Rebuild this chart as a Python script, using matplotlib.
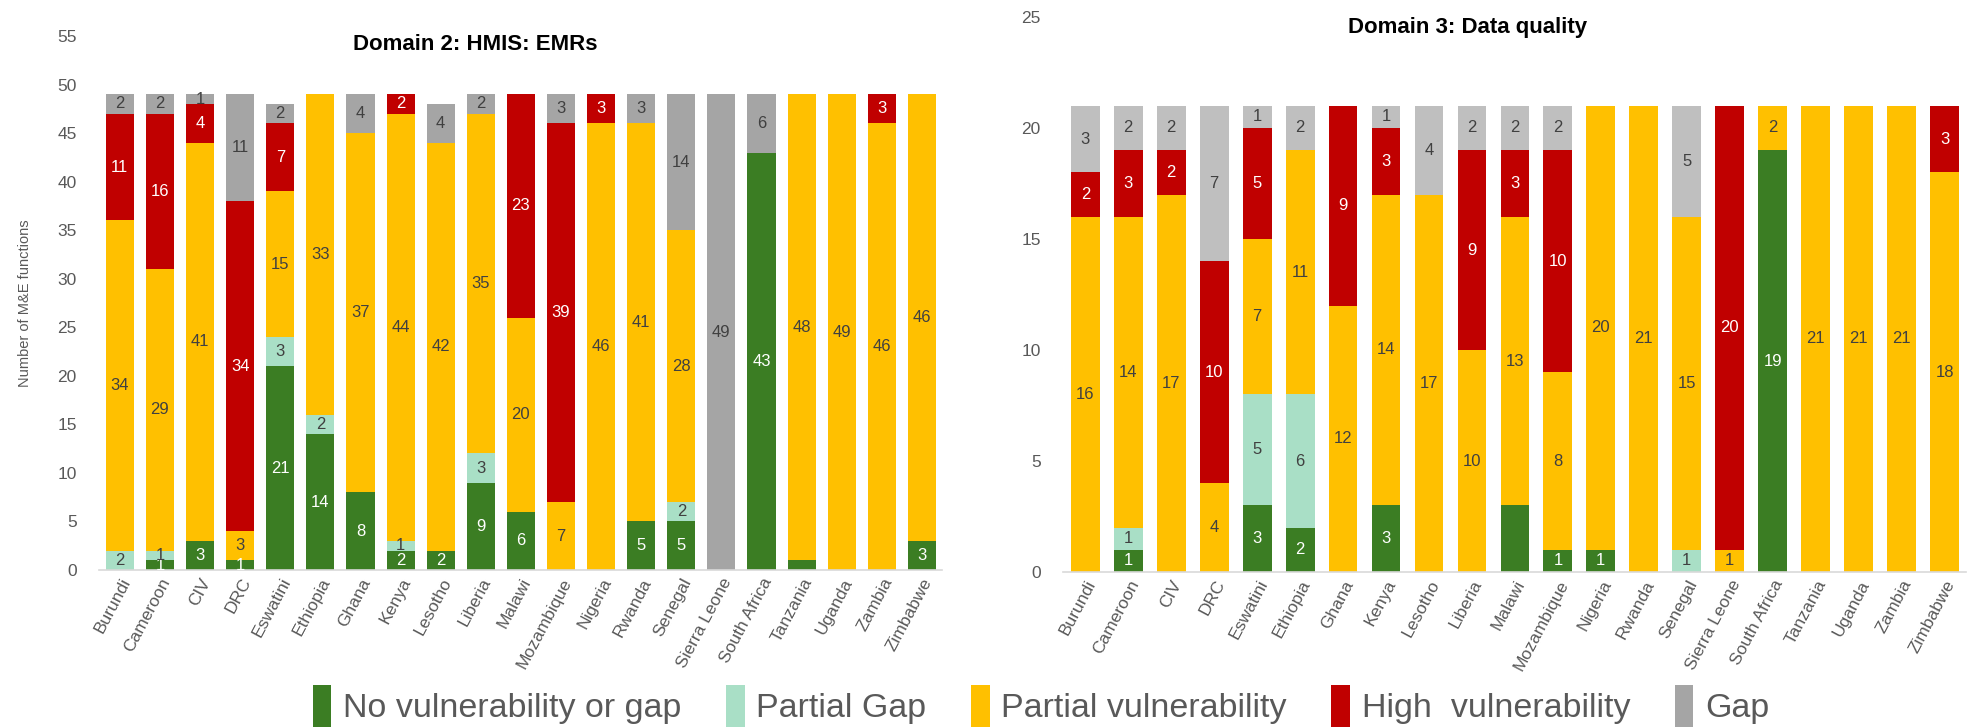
import numpy as np
import matplotlib
matplotlib.use("Agg")
import matplotlib.pyplot as plt
from matplotlib.patches import Patch

countries = ["Burundi", "Cameroon", "CIV", "DRC", "Eswatini", "Ethiopia", "Ghana",
             "Kenya", "Lesotho", "Liberia", "Malawi", "Mozambique", "Nigeria", "Rwanda",
             "Senegal", "Sierra Leone", "South Africa", "Tanzania", "Uganda", "Zambia",
             "Zimbabwe"]
series_names = ["No vulnerability or gap", "Partial Gap", "Partial vulnerability",
                "High  vulnerability", "Gap"]

# Domain 2: HMIS: EMRs
d2_none = [0, 1, 3, 1, 21, 14, 8, 2, 2, 9, 6, 0, 0, 5, 5, 0, 43, 1, 0, 0, 3]
d2_pgap = [2, 1, 0, 0, 3, 2, 0, 1, 0, 3, 0, 0, 0, 0, 2, 0, 0, 0, 0, 0, 0]
d2_pvul = [34, 29, 41, 3, 15, 33, 37, 44, 42, 35, 20, 7, 46, 41, 28, 0, 0, 48, 49, 46, 46]
d2_high = [11, 16, 4, 34, 7, 0, 0, 2, 0, 0, 23, 39, 3, 0, 0, 0, 0, 0, 0, 3, 0]
d2_gap = [2, 2, 1, 11, 2, 0, 4, 0, 4, 2, 0, 3, 0, 3, 14, 49, 6, 0, 0, 0, 0]

# Domain 3: Data quality
d3_none = [0, 1, 0, 0, 3, 2, 0, 3, 0, 0, 3, 1, 1, 0, 0, 0, 19, 0, 0, 0, 0]
d3_pgap = [0, 1, 0, 0, 5, 6, 0, 0, 0, 0, 0, 0, 0, 0, 1, 0, 0, 0, 0, 0, 0]
d3_pvul = [16, 14, 17, 4, 7, 11, 12, 14, 17, 10, 13, 8, 20, 21, 15, 1, 2, 21, 21, 21, 18]
d3_high = [2, 3, 2, 10, 5, 0, 9, 3, 0, 9, 3, 10, 0, 0, 0, 20, 0, 0, 0, 0, 3]
d3_gap = [3, 2, 2, 7, 1, 2, 0, 1, 4, 2, 2, 2, 0, 0, 5, 0, 0, 0, 0, 0, 0]

fill_colors = ["#3B7D23", "#A9DFC6", "#FFC000", "#C00000"]
text_colors = ["white", "#404040", "#404040", "white", "#404040"]
grey = "#595959"
W, H = 1967, 727

fig = plt.figure(figsize=(W / 100, H / 100), dpi=100)
plt.rcParams["font.family"] = ["Liberation Sans", "DejaVu Sans"]


def draw(ax, data, gap_color, hide, width, ymax, step):
    x = np.arange(len(countries))
    bottom = np.zeros(len(countries))
    colors = fill_colors + [gap_color]
    for k, vals in enumerate(data):
        vals = np.array(vals, dtype=float)
        ax.bar(x, vals, width, bottom=bottom, color=colors[k], edgecolor="none")
        for i, v in enumerate(vals):
            if v > 0 and (i, k) not in hide:
                ax.text(x[i], bottom[i] + v / 2, f"{int(v)}", ha="center", va="center",
                        fontsize=12, color=text_colors[k])
        bottom += vals
    ax.set_ylim(0, ymax)
    ax.set_xlim(-0.52, len(countries) - 0.5)
    ax.set_yticks(np.arange(0, ymax + 1, step))
    ax.tick_params(axis="y", length=0, pad=16, labelsize=12.5, labelcolor=grey)
    ax.tick_params(axis="x", length=0, pad=4)
    ax.set_xticks(x)
    ax.set_xticklabels(countries, rotation=62, ha="right", rotation_mode="anchor",
                       fontsize=12.5, color=grey)
    for s in ["top", "right", "left"]:
        ax.spines[s].set_visible(False)
    ax.spines["bottom"].set_color("#D9D9D9")
    ax.spines["bottom"].set_linewidth(1.2)


ax1 = fig.add_axes([99 / W, 1 - 570 / H, (942 - 99) / W, (570 - 36) / H])
draw(ax1, [d2_none, d2_pgap, d2_pvul, d2_high, d2_gap], "#A5A5A5",
     {(17, 0)}, 0.7, 55, 5)
ax1.set_ylabel("Number of M&E functions", fontsize=10.5, color=grey, labelpad=18)
fig.text(475 / W, 1 - 45 / H, "Domain 2: HMIS: EMRs", ha="center", va="center",
         fontsize=16, fontweight="bold", color="black")

ax2 = fig.add_axes([1063 / W, 1 - 572 / H, (1966 - 1063) / W, (572 - 17) / H])
draw(ax2, [d3_none, d3_pgap, d3_pvul, d3_high, d3_gap], "#BFBFBF",
     {(10, 0)}, 0.67, 25, 5)
fig.text(1468 / W, 1 - 27 / H, "Domain 3: Data quality", ha="center", va="center",
         fontsize=16, fontweight="bold", color="black")

handles = [Patch(facecolor=c, edgecolor="none")
           for c in fill_colors + ["#A5A5A5"]]
fig.legend(handles, series_names, loc="center", bbox_to_anchor=(1041 / W, 1 - 706 / H),
           ncol=5, frameon=False, handlelength=0.55, handleheight=1.5, handletextpad=0.35,
           columnspacing=1.3, prop={"family": ["Liberation Sans", "DejaVu Sans"],
                                    "size": 24.5},
           labelcolor=grey)

fig.savefig("out.png", dpi=100)
